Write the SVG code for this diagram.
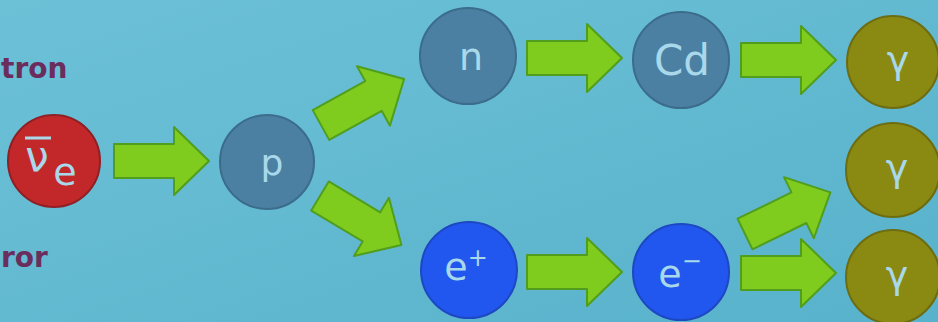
<svg xmlns="http://www.w3.org/2000/svg" xmlns:xlink="http://www.w3.org/1999/xlink" width="938" height="322" viewBox="0 0 938 322">
  <defs>
    <linearGradient id="bg" x1="0" y1="0" x2="1" y2="1">
      <stop offset="0" stop-color="#6cc1d7"/>
      <stop offset="1" stop-color="#58b2cb"/>
    </linearGradient>
    <!-- block arrow: tail at origin, tip at x=95 -->
    <path id="arrow" d="M0,-17 L60,-17 L60,-34 L95,0 L60,34 L60,17 L0,17 Z"/>
    <style>
      .arrow { fill: #80cc1e; stroke: #519d1d; stroke-width: 2; stroke-linejoin: round; }
      .red { fill: #c2282a; stroke: #8f2026; stroke-width: 2; }
      .slate { fill: #4b80a2; stroke: #3c6c8c; stroke-width: 2; }
      .blue { fill: #2157ef; stroke: #1d48c2; stroke-width: 2; }
      .olive { fill: #8a8912; stroke: #6c6c12; stroke-width: 2; }
      .lbl { font-family: "DejaVu Sans", "Open Sans", sans-serif; fill: #a8d8ea; text-anchor: middle; }
      .side { font-family: "DejaVu Sans", "Liberation Sans", sans-serif; font-weight: bold; font-size: 28px; fill: #6b2d5c; }
    </style>
  </defs>

  <rect x="0" y="0" width="938" height="322" fill="url(#bg)"/>

  <!-- side captions at the left edge -->
  <g id="captions">
    <text class="side" x="1" y="78">tron</text>
    <text class="side" x="1" y="267">ror</text>
  </g>

  <g id="connectors">
    <use xlink:href="#arrow" class="arrow" transform="translate(114,161)"/>
    <use xlink:href="#arrow" class="arrow" transform="translate(321,125) rotate(-29)"/>
    <use xlink:href="#arrow" class="arrow" transform="translate(320,196) rotate(31)"/>
    <use xlink:href="#arrow" class="arrow" transform="translate(527,58)"/>
    <use xlink:href="#arrow" class="arrow" transform="translate(741,60)"/>
    <use xlink:href="#arrow" class="arrow" transform="translate(527,272)"/>
    <use xlink:href="#arrow" class="arrow" transform="translate(745,234) rotate(-26)"/>
    <use xlink:href="#arrow" class="arrow" transform="translate(741,273)"/>
  </g>

  <g id="antineutrino">
    <circle class="red" cx="54" cy="161" r="46"/>
    <text class="lbl" x="37" y="171" font-size="42">ν</text>
    <line x1="25" y1="138" x2="51" y2="138" stroke="#a8d8ea" stroke-width="3"/>
    <text class="lbl" x="65" y="185" font-size="38">e</text>
  </g>

  <g id="proton">
    <circle class="slate" cx="267" cy="162" r="47"/>
    <text class="lbl" x="272" y="175" font-size="36">p</text>
  </g>

  <g id="neutron">
    <circle class="slate" cx="468" cy="56" r="48"/>
    <text class="lbl" x="471" y="70" font-size="38">n</text>
  </g>

  <g id="cadmium">
    <circle class="slate" cx="681" cy="60" r="48"/>
    <text class="lbl" x="682" y="75" font-size="42">Cd</text>
  </g>

  <g id="positron">
    <circle class="blue" cx="469" cy="270" r="48"/>
    <text class="lbl" x="466" y="280" font-size="38">e<tspan font-size="24" dy="-14">+</tspan></text>
  </g>

  <g id="electron">
    <circle class="blue" cx="681" cy="272" r="48"/>
    <text class="lbl" x="680" y="287" font-size="38">e<tspan font-size="24" dy="-18">−</tspan></text>
  </g>

  <g id="gamma-1">
    <circle class="olive" cx="893" cy="62" r="46"/>
    <text class="lbl" x="898" y="73" font-size="38">γ</text>
  </g>

  <g id="gamma-2">
    <circle class="olive" cx="893" cy="170" r="47"/>
    <text class="lbl" x="897" y="181" font-size="38">γ</text>
  </g>

  <g id="gamma-3">
    <circle class="olive" cx="893" cy="277" r="47"/>
    <text class="lbl" x="897" y="288" font-size="38">γ</text>
  </g>
</svg>
